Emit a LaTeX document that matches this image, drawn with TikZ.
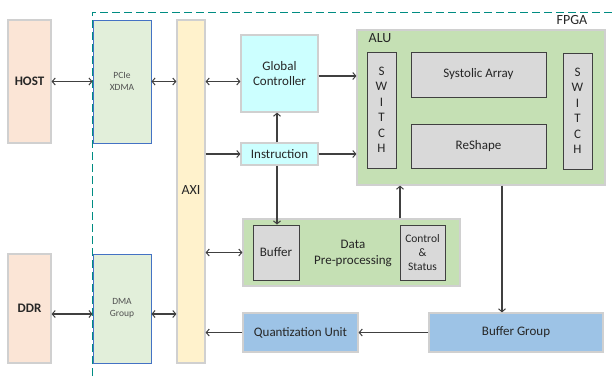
\documentclass[tikz,border=0pt]{standalone}
\usepackage{fontspec}
\setmainfont{Carlito}
\usetikzlibrary{arrows.meta,calc}

\definecolor{txt}{HTML}{262626}
\definecolor{edge}{HTML}{D0D0D0}
\definecolor{peach}{HTML}{FBE5D6}
\definecolor{palegreen}{HTML}{E2EFDA}
\definecolor{bluedge}{HTML}{4472C4}
\definecolor{cream}{HTML}{FFF2CC}
\definecolor{aqua}{HTML}{CCFFFF}
\definecolor{leaf}{HTML}{C5E0B4}
\definecolor{unit}{HTML}{D9D9D9}
\definecolor{sky}{HTML}{9DC3E6}
\definecolor{teal}{RGB}{0,140,130}
\definecolor{wire}{HTML}{404040}

\tikzset{
  blk/.style={draw=edge, line width=1.2pt, inner sep=0pt, align=center,
              text=txt, font=\fontsize{13}{15.5}\selectfont},
  hostbox/.style={blk, fill=peach, font=\fontsize{13}{15}\selectfont\bfseries},
  ipbox/.style={blk, fill=palegreen, draw=bluedge, line width=0.9pt,
                text=txt!80, font=\fontsize{9.5}{12}\selectfont},
  busbox/.style={blk, fill=cream},
  ctlbox/.style={blk, fill=aqua},
  grpbox/.style={blk, fill=leaf},
  unitbox/.style={blk, fill=unit, draw=wire, line width=1pt},
  membox/.style={blk, fill=sky},
  tip/.style={Straight Barb[length=3pt,width=7pt,line width=1pt]},
  link/.style={draw=wire, line width=1.1pt, arrows={-Straight Barb[length=3pt,width=7pt,line width=1pt]}},
  dlink/.style={draw=wire, line width=1.1pt,
    arrows={Straight Barb[length=3pt,width=7pt,line width=1pt]-Straight Barb[length=3pt,width=7pt,line width=1pt]}},
}

\begin{document}
\begin{tikzpicture}[x=1pt,y=-1pt]
\useasboundingbox (0,0) rectangle (612,376);

% FPGA boundary
\draw[teal, line width=1pt, dash pattern=on 8pt off 4pt] (92,376) -- (92,12) -- (612,12);
\node[text=txt, font=\fontsize{14}{16}\selectfont] (fpga) at (572,20) {FPGA};

% host side
\node[hostbox, minimum width=43, minimum height=123] (host) at (29.5,81.5) {HOST};
\node[hostbox, minimum width=43, minimum height=109] (ddr) at (29.5,308.5) {DDR};

% interface blocks
\node[ipbox, minimum width=58, minimum height=123] (pcie) at (122,81.5) {PCIe\\XDMA};
\node[ipbox, minimum width=58, minimum height=109] (dma) at (122,308.5) {DMA\\Group};

% AXI bus
\node[busbox, minimum width=28, minimum height=343] (axi) at (191,191.5) {};
\node[text=txt, font=\fontsize{14}{16}\selectfont] (axilbl) at (191,190) {AXI};

% control path
\node[ctlbox, minimum width=77, minimum height=77] (gc) at (279.5,73.5) {Global\\Controller};
\node[ctlbox, minimum width=77, minimum height=22] (instr) at (279.5,154) {Instruction};

% ALU
\node[grpbox, minimum width=248, minimum height=155] (alu) at (481,107.5) {};
\node[text=txt, font=\fontsize{14}{16}\selectfont] (alulbl) at (380,38) {ALU};
\node[unitbox, minimum width=29, minimum height=116] (swl) at (381.5,110) {S\\W\\I\\T\\C\\H};
\node[unitbox, minimum width=135, minimum height=45] (sa) at (478.5,74.5) {Systolic Array};
\node[unitbox, minimum width=135, minimum height=44] (rs) at (478.5,146) {ReShape};
\node[unitbox, minimum width=29, minimum height=116] (swr) at (577.5,111) {S\\W\\I\\T\\C\\H};

% data pre-processing
\node[grpbox, minimum width=217, minimum height=67] (dp) at (351.5,252.5) {};
\node[unitbox, minimum width=46, minimum height=55] (buf) at (276,252.5) {Buffer};
\node[text=txt, align=center, font=\fontsize{13}{16}\selectfont] (dplbl) at (353,253) {Data\\Pre-processing};
\node[unitbox, minimum width=45, minimum height=55, font=\fontsize{11.5}{14}\selectfont] (cs) at (422.5,252.5) {Control\\\&\\Status};

% output path
\node[membox, minimum width=174, minimum height=39] (bg) at (516,332.5) {Buffer Group};
\node[membox, minimum width=115, minimum height=39] (qu) at (300.5,332.5) {Quantization Unit};

% routing points
\coordinate (ddrrow) at (0,314);
\coordinate (gcrow) at (0,76);
\coordinate (instrcol) at (277,0);
\coordinate (aluout) at (502,0);
\coordinate (csup) at (400,0);

% connectors
\draw[dlink] (host.east) -- (pcie.west);
\draw[dlink] (pcie.east) -- (axi.west |- pcie.east);
\draw[dlink] (axi.east |- pcie.east) -- (gc.west |- pcie.east);
\draw[link] (axi.east |- instr.west) -- (instr.west);
\draw[link] (instrcol |- instr.north) -- (instrcol |- gc.south);
\draw[link] (instrcol |- instr.south) -- (instrcol |- buf.north);
\draw[link] (gc.east |- gcrow) -- (alu.west |- gcrow);
\draw[link] (instr.east) -- (alu.west |- instr.east);
\draw[dlink] (axi.east |- dp.west) -- (dp.west);
\draw[link] (csup |- dp.north) -- (csup |- alu.south);
\draw[link] (aluout |- alu.south) -- (aluout |- bg.north);
\draw[link] (bg.west) -- (qu.east);
\draw[link] (qu.west) -- (axi.east |- qu.west);
\draw[dlink] (ddr.east |- ddrrow) -- (dma.west |- ddrrow);
\draw[dlink] (dma.east |- ddrrow) -- (axi.west |- ddrrow);
\end{tikzpicture}
\end{document}
